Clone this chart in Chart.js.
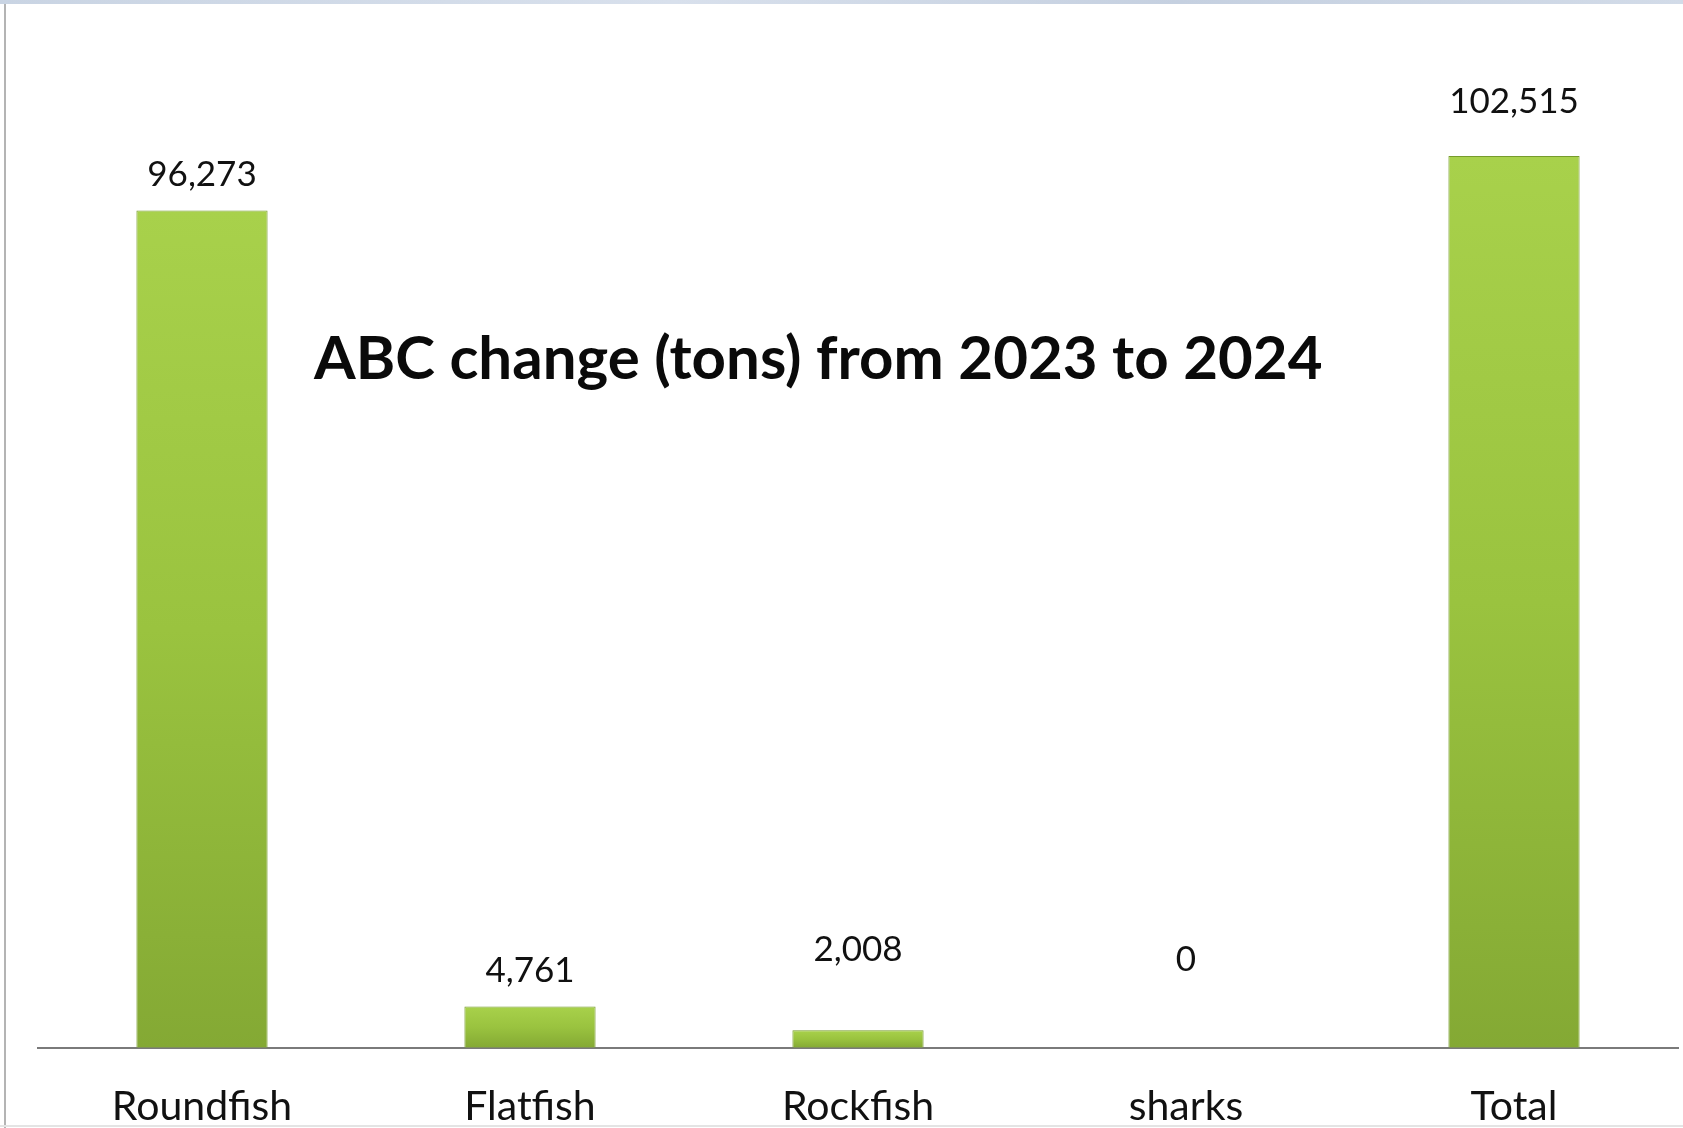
<!DOCTYPE html>
<html>
<head>
<meta charset="utf-8">
<script src="https://cdn.jsdelivr.net/npm/chart.js@4"></script>
<style>
    html, body { margin: 0; padding: 0; background: #ffffff; overflow: hidden; }
    #wrap { position: relative; width: 1683px; height: 1128px; }
    #topband { position: absolute; left: 0; top: 0; width: 1683px; height: 4px; background: linear-gradient(90deg, #c9d4e3, #d8e0ec 40%, #c5d0e0 70%, #d2dbe8); }
    #leftline { position: absolute; left: 4px; top: 4px; width: 2px; height: 1124px; background: #b4b4b4; }
    #bottomline { position: absolute; left: 0; top: 1125px; width: 1683px; height: 2px; background: #e4e4e4; }
    canvas { position: absolute; left: 0; top: 0; }
</style>
</head>
<body>
<div id="wrap">
    <canvas id="myChart" width="1683" height="1128"></canvas>
    <div id="topband"></div>
    <div id="leftline"></div>
    <div id="bottomline"></div>
</div>
<script>
// datos del grafico
const categorias = ['Roundfish', 'Flatfish', 'Rockfish', 'sharks', 'Total'];
const cambioABC = [96273, 4761, 2008, 0, 102515];
const tituloGrafico = 'ABC change (tons) from 2023 to 2024';

// distancia (px) de cada etiqueta sobre su barra
const elevacionEtiqueta = [36, 36, 81, 88, 54];

document.addEventListener('DOMContentLoaded', function () {

    const ctx = document.getElementById('myChart').getContext('2d');

    function rellenoBarra(context) {
        const chart = context.chart;
        const y = chart.scales.y;
        if (!chart.chartArea || !y || context.raw === undefined) return '#98c13d';
        const top = y.getPixelForValue(context.raw);
        const bottom = y.getPixelForValue(0);
        if (!Number.isFinite(top) || !Number.isFinite(bottom) || bottom - top < 1) return '#98c13d';
        const g = chart.ctx.createLinearGradient(0, top, 0, bottom);
        g.addColorStop(0, '#a8d14b');
        g.addColorStop(0.5, '#9ac33f');
        g.addColorStop(1, '#84a934');
        return g;
    }

    // etiquetas de valor encima de las barras
    const etiquetasValor = {
        id: 'etiquetasValor',
        afterDatasetsDraw(chart) {
            const c = chart.ctx;
            const meta = chart.getDatasetMeta(0);
            c.save();
            c.font = '35px Lato';
            c.fillStyle = '#111111';
            c.textAlign = 'center';
            c.textBaseline = 'middle';
            meta.data.forEach(function (bar, i) {
                const texto = cambioABC[i].toLocaleString('en-US');
                c.fillText(texto, bar.x, bar.y - elevacionEtiqueta[i]);
            });
            c.restore();
        }
    };

    // titulo dentro del area del grafico
    const tituloInterno = {
        id: 'tituloInterno',
        afterDraw(chart) {
            const c = chart.ctx;
            c.save();
            c.font = 'bold 60px Lato';
            c.fillStyle = '#0a0a0a';
            c.textAlign = 'left';
            c.textBaseline = 'middle';
            c.fillText(tituloGrafico, 314, 360);
            c.restore();
        }
    };

    new Chart(ctx, {
        type: 'bar',
        data: {
            labels: categorias,
            datasets: [{
                data: cambioABC,
                backgroundColor: rellenoBarra,
                borderColor: '#769b2c',
                borderWidth: 1,
                categoryPercentage: 1,
                barPercentage: 0.4
            }]
        },
        options: {
            responsive: false,
            animation: false,
            layout: { padding: { left: 38, right: 5, top: 4, bottom: -37 } },
            plugins: {
                legend: { display: false },
                tooltip: { enabled: false }
            },
            scales: {
                x: {
                    grid: { display: false, drawTicks: false },
                    border: { display: true, color: '#7a7a7a', width: 2 },
                    ticks: {
                        color: '#111111',
                        padding: 34,
                        font: { family: 'Lato', size: 41 }
                    }
                },
                y: {
                    display: false,
                    min: 0,
                    max: 120000
                }
            }
        },
        plugins: [etiquetasValor, tituloInterno]
    });
});
</script>
</body>
</html>
